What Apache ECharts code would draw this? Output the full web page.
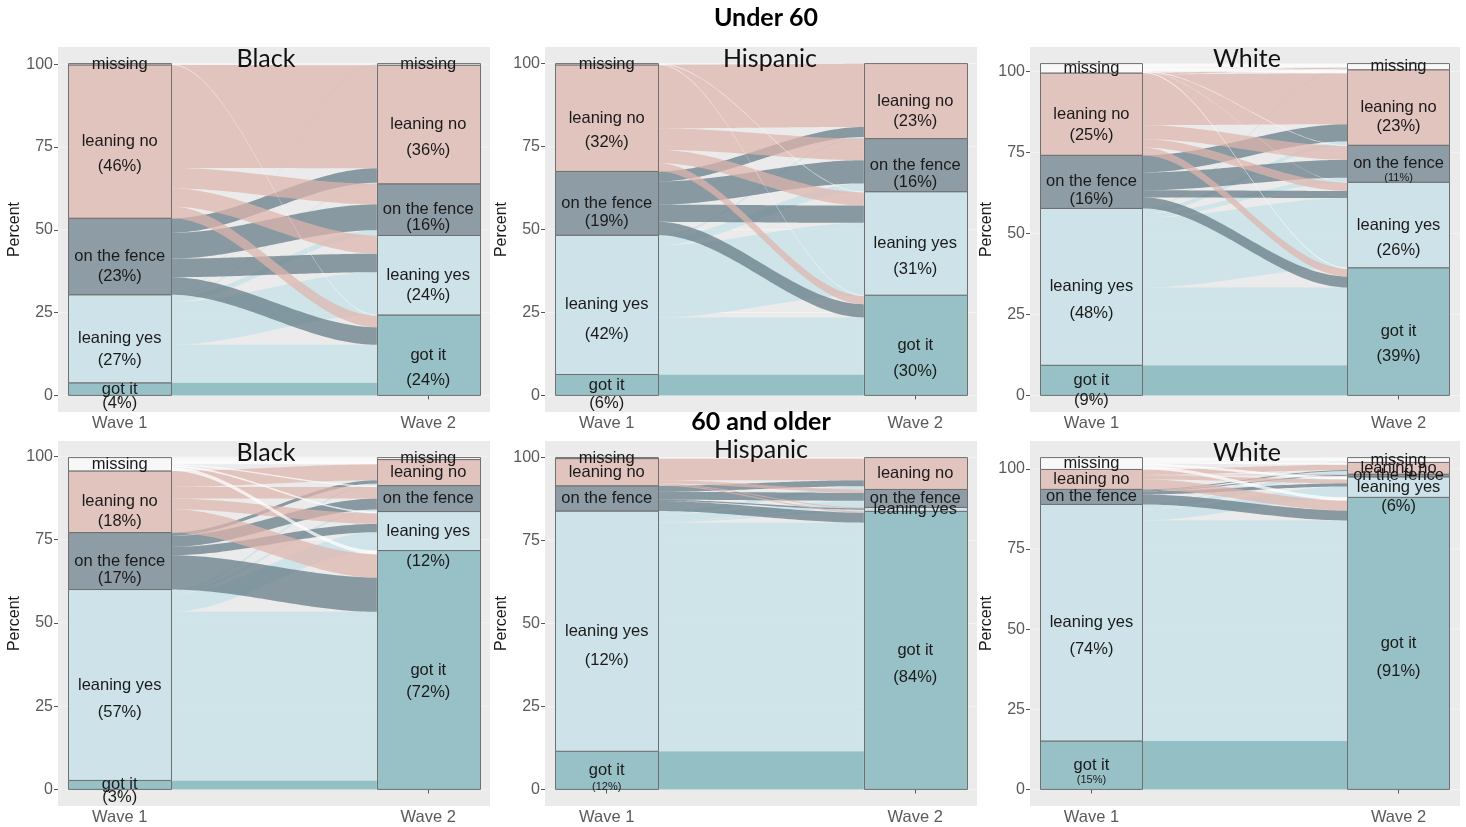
<!DOCTYPE html>
<html>
<head>
<meta charset="utf-8">
<script src="https://cdn.jsdelivr.net/npm/echarts@6/dist/echarts.min.js"></script>
<style>
  html, body { margin: 0; padding: 0; background: #ffffff; }
  #chart { width: 1466px; height: 827px; }
</style>
</head>
<body>
<div id="chart"></div>
<script>
// Response categories, stacked from the bottom of each bar upwards
const categories = ['got it', 'leaning yes', 'on the fence', 'leaning no', 'missing'];
const waves = ['Wave 1', 'Wave 2'];
const groups = ['Black', 'Hispanic', 'White'];
const ageGroups = ['Under 60', '60 and older'];
const yTicks = [0, 25, 50, 75, 100];

// Transition matrices (percent of respondents).
// Row = Wave 1 response, column = Wave 2 response, both in the order of `categories`.
const flowsBlackUnder60 = [
  [3.8, 0, 0, 0, 0],
  [11.5, 12.9, 1.6, 0.3, 0.3],
  [5.3, 5.6, 7.8, 4.4, 0],
  [3.5, 5.5, 6.2, 31.1, 0],
  [0.2, 0, 0, 0, 0.2]
];
const flowsHispanicUnder60 = [
  [6.3, 0, 0, 0, 0],
  [17.2, 21.8, 2.5, 0.5, 0],
  [4.0, 5.2, 7.0, 3.0, 0],
  [2.5, 4.0, 6.5, 19.1, 0],
  [0.2, 0.2, 0, 0, 0]
];
const flowsWhiteUnder60 = [
  [9.3, 0, 0, 0, 0],
  [24.0, 21.5, 1.4, 1.2, 0.3],
  [3.4, 2.2, 5.5, 5.3, 0],
  [2.4, 2.6, 4.3, 15.7, 0.4],
  [0.3, 0.1, 0.2, 1.1, 1.2]
];
const flowsBlackOlder = [
  [2.7, 0, 0, 0, 0],
  [50.6, 5.5, 0.6, 0.6, 0],
  [10.3, 2.5, 3.3, 1.0, 0],
  [7.0, 3.2, 3.5, 4.8, 0],
  [1.1, 0.5, 0.4, 1.4, 0.6]
];
const flowsHispanicOlder = [
  [11.5, 0, 0, 0, 0],
  [68.9, 0.5, 2.0, 1.0, 0],
  [3.0, 0.4, 2.4, 1.8, 0],
  [0.4, 0.3, 1.0, 6.5, 0],
  [0, 0, 0, 0.3, 0]
];
const flowsWhiteOlder = [
  [15.1, 0, 0, 0, 0],
  [68.8, 3.4, 0.3, 1.0, 0.3],
  [3.1, 1.0, 0.3, 0.3, 0],
  [3.1, 1.2, 0.2, 1.7, 0],
  [1.0, 0.8, 0, 0.7, 1.2]
];

// Percent labels printed under the stratum names (null = no percent printed)
const pctBlackUnder60W1 = [4, 27, 23, 46, null];
const pctBlackUnder60W2 = [24, 24, 16, 36, null];
const pctHispanicUnder60W1 = [6, 42, 19, 32, null];
const pctHispanicUnder60W2 = [30, 31, 16, 23, null];
const pctWhiteUnder60W1 = [9, 48, 16, 25, null];
const pctWhiteUnder60W2 = [39, 26, 11, 23, null];
const pctBlackOlderW1 = [3, 57, 17, 18, null];
const pctBlackOlderW2 = [72, 12, null, null, null];
const pctHispanicOlderW1 = [12, 12, null, null, null];
const pctHispanicOlderW2 = [84, null, null, null, null];
const pctWhiteOlderW1 = [15, 74, null, null, null];
const pctWhiteOlderW2 = [91, 6, null, null, null];

// ---- styling ----
const barFill = ['#97C1C6', '#CEE3E9', '#8E9CA5', '#E2C4BF', '#F8F8F8'];
const flowFill = [
  'rgba(113,174,181,0.72)',
  'rgba(196,224,232,0.72)',
  'rgba(98,121,132,0.72)',
  'rgba(222,180,173,0.72)',
  'rgba(255,255,255,0.72)'
];
const panelBg = '#EBEBEB';
const labelFont = '"Liberation Sans", Arial, sans-serif';
const titleFont = 'Lato, "Open Sans", sans-serif';

// Pixel layout of the six panels: [left, top, width, height]
const gridRects = [
  [58, 47, 432, 365], [545, 47, 432, 365], [1030, 47, 430, 365],
  [58, 441, 432, 365], [545, 441, 432, 365], [1030, 441, 430, 365]
];
const panelTitlePos = [[266, 59], [770, 59], [1247, 59], [266, 453], [761, 450], [1247, 453]];
const rowTitlePos = [[766, 18], [761, 422]];

// Distance (px) from a stratum name to its percent line, and small-font overrides
const pctGap = [
  [[14, 22, 20, 25, 0], [25, 20, 16, 26, 0]],
  [[18, 30, 18, 24, 0], [26, 26, 17, 20, 0]],
  [[20, 27, 18, 21, 0], [25, 25, 14, 19, 0]],
  [[13, 27, 17, 20, 0], [22, 30, 0, 0, 0]],
  [[17, 29, 0, 0, 0], [27, 0, 0, 0, 0]],
  [[15, 27, 0, 0, 0], [28, 19, 0, 0, 0]]
];
const pctSmall = [
  [[], []], [[], []], [[], [2]],
  [[], []], [[0], []], [[0], []]
];

const panels = [
  { flows: flowsBlackUnder60, pct: [pctBlackUnder60W1, pctBlackUnder60W2], title: groups[0] },
  { flows: flowsHispanicUnder60, pct: [pctHispanicUnder60W1, pctHispanicUnder60W2], title: groups[1] },
  { flows: flowsWhiteUnder60, pct: [pctWhiteUnder60W1, pctWhiteUnder60W2], title: groups[2] },
  { flows: flowsBlackOlder, pct: [pctBlackOlderW1, pctBlackOlderW2], title: groups[0] },
  { flows: flowsHispanicOlder, pct: [pctHispanicOlderW1, pctHispanicOlderW2], title: groups[1] },
  { flows: flowsWhiteOlder, pct: [pctWhiteOlderW1, pctWhiteOlderW2], title: groups[2] }
];

const BAR_HALF = 1 / 6;   // bar width = 1/3 of the distance between waves
const sum = a => a.reduce((s, v) => s + v, 0);

// Build strata and lodes for a transition matrix
function layoutPanel(F) {
  const n = categories.length;
  const rowSum = F.map(sum);
  const colSum = categories.map((_, j) => sum(F.map(r => r[j])));
  const base1 = [], base2 = [];
  let acc1 = 0, acc2 = 0;
  for (let k = 0; k < n; k++) {
    base1.push(acc1); acc1 += rowSum[k];
    base2.push(acc2); acc2 += colSum[k];
  }
  const strata = [];
  for (let k = 0; k < n; k++) {
    if (rowSum[k] > 0) strata.push([1, base1[k], base1[k] + rowSum[k], k, 0]);
    if (colSum[k] > 0) strata.push([2, base2[k], base2[k] + colSum[k], k, 1]);
  }
  const flows = [];
  for (let i = 0; i < n; i++) {
    for (let j = 0; j < n; j++) {
      const v = F[i][j];
      if (v <= 0) continue;
      const lo1 = base1[i] + sum(F[i].slice(0, j));
      let lo2 = base2[j];
      for (let k = 0; k < i; k++) lo2 += F[k][j];
      flows.push([1 + BAR_HALF, lo1, lo1 + v, 2 - BAR_HALF, lo2, lo2 + v, i]);
    }
  }
  return { strata, flows, total: acc1 };
}

// S-shaped edge between two lode corners, flat at both ends
function sigmoidPoints(p, q, steps) {
  const pts = [];
  for (let s = 0; s <= steps; s++) {
    const t = s / steps;
    const e = t * t * (3 - 2 * t);
    pts.push([p[0] + (q[0] - p[0]) * t, p[1] + (q[1] - p[1]) * e]);
  }
  return pts;
}

const grid = [], xAxis = [], yAxis = [], series = [], graphics = [];

panels.forEach((panel, idx) => {
  const L = layoutPanel(panel.flows);
  const r = gridRects[idx];
  grid.push({
    left: r[0], top: r[1], width: r[2], height: r[3],
    show: true, backgroundColor: panelBg, borderWidth: 0
  });
  xAxis.push({
    gridIndex: idx, type: 'value', min: 0.8, max: 2.2,
    axisLine: { show: false },
    splitLine: { show: false },
    axisTick: { show: true, customValues: [1, 2], length: 4, lineStyle: { color: '#555' } },
    axisLabel: {
      customValues: [1, 2], margin: 3,
      formatter: v => waves[Math.round(v) - 1],
      color: '#5a5a5a', fontSize: 16.5, fontFamily: labelFont
    }
  });
  yAxis.push({
    gridIndex: idx, type: 'value',
    min: -0.05 * L.total, max: 1.05 * L.total,
    name: 'Percent', nameLocation: 'middle', nameGap: 31,
    nameTextStyle: { fontSize: 16, color: '#1a1a1a', fontFamily: labelFont },
    axisLine: { show: false },
    splitLine: { show: false },
    axisTick: { show: true, customValues: yTicks, length: 4, lineStyle: { color: '#555' } },
    axisLabel: {
      customValues: yTicks, margin: 5,
      color: '#5a5a5a', fontSize: 16, fontFamily: labelFont
    }
  });

  // faint horizontal grid lines
  series.push({
    type: 'custom', xAxisIndex: idx, yAxisIndex: idx, silent: true, z: 1,
    data: yTicks.map(v => [v]),
    renderItem: (params, api) => {
      const a = api.coord([0.8, api.value(0)]);
      const b = api.coord([2.2, api.value(0)]);
      return { type: 'line', shape: { x1: a[0], y1: a[1], x2: b[0], y2: b[1] },
        style: { stroke: '#F3F3F3', lineWidth: 1 } };
    }
  });

  // ribbons between the two waves
  series.push({
    type: 'custom', xAxisIndex: idx, yAxisIndex: idx, silent: true, z: 2,
    data: L.flows,
    renderItem: (params, api) => {
      const top1 = api.coord([api.value(0), api.value(2)]);
      const bot1 = api.coord([api.value(0), api.value(1)]);
      const top2 = api.coord([api.value(3), api.value(5)]);
      const bot2 = api.coord([api.value(3), api.value(4)]);
      const upper = sigmoidPoints(top1, top2, 48);
      const lower = sigmoidPoints(bot2, bot1, 48);
      return { type: 'polygon', shape: { points: upper.concat(lower) },
        style: { fill: flowFill[api.value(6)] } };
    }
  });

  // stacked strata (bars)
  series.push({
    type: 'custom', xAxisIndex: idx, yAxisIndex: idx, silent: true, z: 3,
    data: L.strata,
    renderItem: (params, api) => {
      const tl = api.coord([api.value(0) - BAR_HALF, api.value(2)]);
      const br = api.coord([api.value(0) + BAR_HALF, api.value(1)]);
      return { type: 'rect',
        shape: { x: Math.round(tl[0]) + 0.5, y: tl[1], width: Math.round(br[0] - tl[0]), height: br[1] - tl[1] },
        style: { fill: barFill[api.value(3)], stroke: '#6f6f6f', lineWidth: 1 } };
    }
  });

  // stratum names and percentages
  series.push({
    type: 'custom', xAxisIndex: idx, yAxisIndex: idx, silent: true, z: 4,
    data: L.strata,
    renderItem: (params, api) => {
      const cat = api.value(3), w = api.value(4);
      const c = api.coord([api.value(0), (api.value(1) + api.value(2)) / 2]);
      const children = [{
        type: 'text', x: c[0], y: c[1],
        style: { text: categories[cat], fill: '#1a1a1a', font: '16.5px ' + labelFont,
          align: 'center', verticalAlign: 'middle' }
      }];
      const p = panel.pct[w][cat];
      if (p !== null && p !== undefined) {
        const small = pctSmall[idx][w].indexOf(cat) >= 0;
        children.push({
          type: 'text', x: c[0], y: c[1] + pctGap[idx][w][cat],
          style: { text: '(' + p + '%)', fill: '#1a1a1a',
            font: (small ? '11px ' : '16.5px ') + labelFont,
            align: 'center', verticalAlign: 'middle' }
        });
      }
      return { type: 'group', children };
    }
  });

  graphics.push({
    type: 'text', x: panelTitlePos[idx][0], y: panelTitlePos[idx][1], z: 10,
    style: { text: panel.title, font: '25px ' + titleFont, fill: '#111',
      align: 'center', verticalAlign: 'middle' }
  });
});

rowTitlePos.forEach((pos, k) => {
  graphics.push({
    type: 'text', x: pos[0], y: pos[1], z: 10,
    style: { text: ageGroups[k], font: 'bold 25px ' + titleFont, fill: '#000',
      align: 'center', verticalAlign: 'middle' }
  });
});

const chart = echarts.init(document.getElementById('chart'), null, { renderer: 'canvas' });
chart.setOption({
  animation: false,
  backgroundColor: '#ffffff',
  grid, xAxis, yAxis, series,
  graphic: graphics
});
</script>
</body>
</html>
